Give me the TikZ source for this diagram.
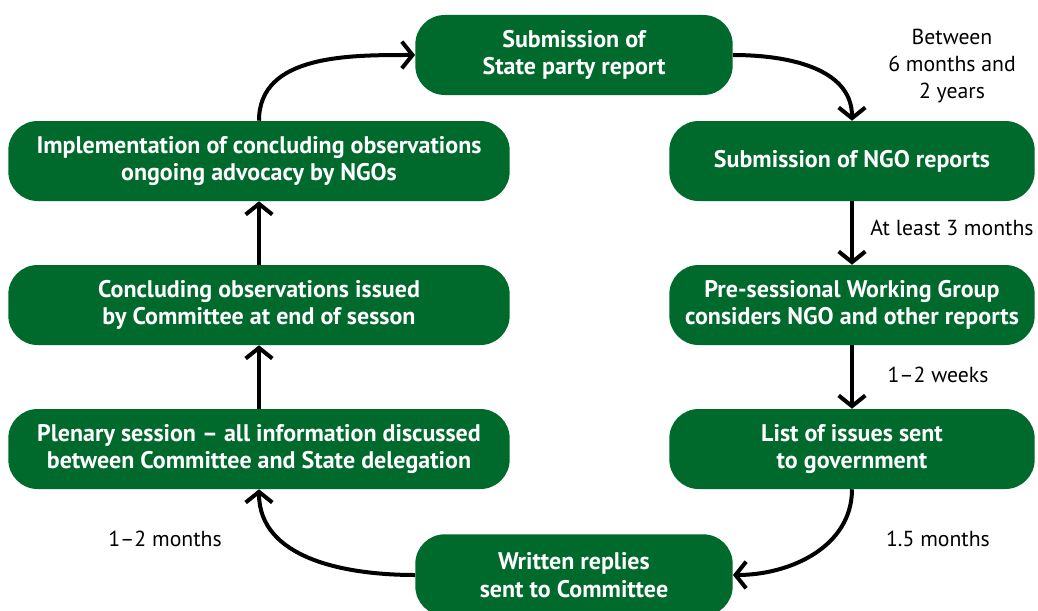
\documentclass[tikz,border=0pt]{standalone}
\usepackage{fontspec}
\setmainfont{PT Sans}
\usetikzlibrary{arrows.meta}
\definecolor{boxgreen}{HTML}{006A2C}
\tikzset{
  stage/.style={draw=none, fill=boxgreen, rounded corners=22pt, text=white,
    font=\fontsize{18}{20.5}\selectfont\bfseries, align=center, inner sep=0pt},
  wide/.style={stage, minimum width=376pt, minimum height=60pt},
  narrow/.style={stage, minimum width=238pt, minimum height=60pt},
  side/.style={stage, minimum width=274pt, minimum height=60pt},
  flow/.style={line width=3pt, -{Straight Barb[length=8pt, width=20pt, line width=3pt]}},
  note/.style={font=\fontsize{16.3}{20}\selectfont, align=center, inner sep=0pt}
}
\begin{document}
\begin{tikzpicture}[x=0.75pt, y=-0.75pt]
\useasboundingbox (0,0) rectangle (1038,610);
\node[narrow] (sub) at (574,55) {Submission of\\State party report};
\node[wide] (impl) at (259,161) {Implementation of concluding observations\\ongoing advocacy by NGOs};
\node[wide] (concl) at (259,305) {Concluding observations issued\\by Committee at end of sesson};
\node[wide] (plen) at (259,449) {Plenary session -- all information discussed\\between Committee and State delegation};
\node[side] (ngo) at (852,161) {Submission of NGO reports};
\node[side] (pre) at (852,305) {Pre-sessional Working Group\\considers NGO and other reports};
\node[side] (list) at (852,449) {List of issues sent\\to government};
\node[narrow, minimum height=61pt] (wr) at (574,575) {Written replies\\sent to Committee};

\node[note] (l1) at (952,66) {Between\\6 months and\\2 years};
\node[note, anchor=west] (l2) at (870,228) {At least 3 months};
\node[note] (l3) at (938,375) {1--2 weeks};
\node[note] (l4) at (938,539) {1.5 months};
\node[note] (l5) at (165,539) {1--2 months};

\draw[flow] (impl.north) to[out=90, in=180] (sub.west);
\draw[flow] (sub.east) to[out=0, in=90] (ngo.north);
\draw[flow] (ngo.south) -- (pre.north);
\draw[flow] (pre.south) -- (list.north);
\draw[flow] (list.south) to[out=-90, in=0] (wr.east);
\draw[flow] (wr.west) to[out=180, in=-90] (plen.south);
\draw[flow] (plen.north) -- (concl.south);
\draw[flow] (concl.north) -- (impl.south);
\end{tikzpicture}
\end{document}
